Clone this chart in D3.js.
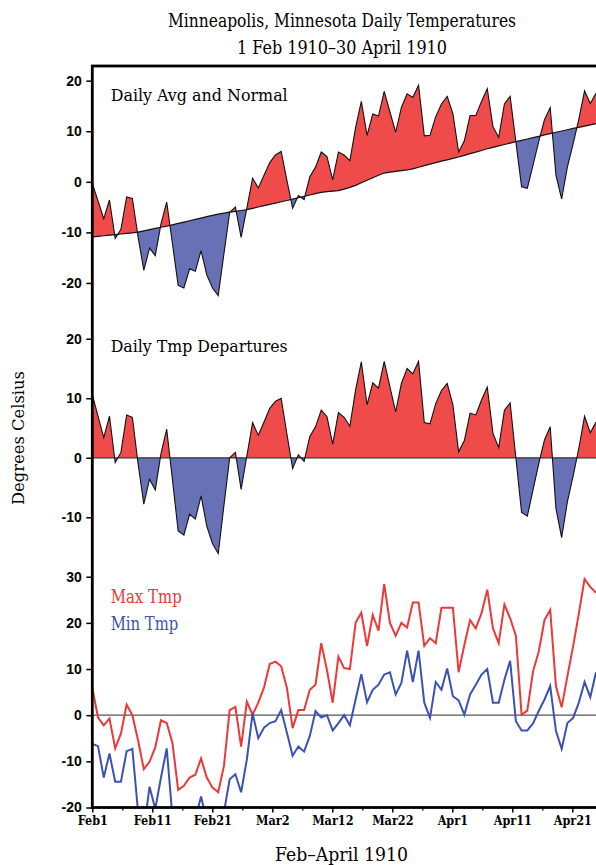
<!DOCTYPE html>
<html><head><meta charset="utf-8">
<script src="https://cdn.jsdelivr.net/npm/d3@7"></script>
<style>html,body{margin:0;padding:0;background:#fff;overflow:hidden}svg{display:block}</style>
</head><body><svg id="c" width="596" height="865"></svg>
<script>
// ---- data (daily, 1 Feb 1910 onward, index 0 = Feb 1) ----
const tnorm = [-10.9,-10.78,-10.67,-10.55,-10.44,-10.32,-10.2,-10.1,-9.94,-9.7,
  -9.46,-9.22,-8.98,-8.75,-8.5,-8.23,-7.97,-7.7,-7.44,-7.17,
  -6.9,-6.64,-6.38,-6.2,-6.0,-5.85,-5.67,-5.5,-5.24,-4.98,
  -4.72,-4.46,-4.2,-3.95,-3.7,-3.43,-3.15,-2.87,-2.6,-2.32,
  -2.08,-1.95,-1.85,-1.73,-1.46,-1.1,-0.7,-0.2,0.3,0.8,
  1.3,1.73,1.9,2.05,2.2,2.35,2.55,2.87,3.2,3.5,
  3.8,4.08,4.35,4.63,4.9,5.23,5.56,5.88,6.2,6.53,
  6.8,7.1,7.37,7.66,7.94,8.2,8.47,8.74,9.0,9.27,
  9.54,9.8,10.05,10.3,10.55,10.78,11.0,11.25,11.5];
const tdep = [10.6,7.0,3.4,7.0,-0.8,0.9,7.2,6.8,-1.0,-7.8,
  -3.6,-5.4,0.7,4.8,-3.7,-12.3,-13.0,-9.5,-10.3,-6.4,
  -11.5,-14.4,-16.1,-8.0,0.0,0.9,-5.3,0.3,5.9,3.8,
  6.0,8.3,9.5,10.0,4.0,-1.8,0.5,-0.6,3.6,5.2,
  8.0,6.9,2.3,7.6,6.8,5.3,11.4,16.1,8.9,12.6,
  11.7,16.2,11.9,7.7,12.5,15.0,14.1,16.2,5.9,5.7,
  9.1,11.3,12.5,8.9,1.0,2.9,7.5,7.2,9.7,11.9,
  4.1,1.7,8.0,9.2,0.0,-9.2,-9.8,-5.4,-1.0,3.0,
  5.2,-8.5,-13.4,-7.4,-3.1,1.6,7.0,4.2,6.0];
const tavg = [-0.3,-3.8,-7.3,-3.6,-11.2,-9.4,-3.0,-3.3,-10.9,-17.5,
  -13.1,-14.6,-8.3,-4.0,-12.2,-20.5,-21.0,-17.2,-17.7,-13.6,
  -18.4,-21.0,-22.5,-14.2,-6.0,-5.0,-11.0,-5.2,0.7,-1.2,
  1.3,3.8,5.3,6.0,0.3,-5.2,-2.7,-3.5,1.0,2.9,
  5.9,5.0,0.4,5.9,5.3,4.2,10.7,15.9,9.2,13.4,
  13.0,17.9,13.8,9.8,14.7,17.4,16.7,19.1,9.1,9.2,
  12.9,15.4,16.9,13.5,5.9,8.1,13.1,13.1,15.9,18.4,
  10.9,8.8,15.4,16.9,7.9,-1.0,-1.3,3.3,8.0,12.3,
  14.7,1.3,-3.4,2.9,7.5,12.4,18.0,15.5,17.5];
const tmax = [5.9,-0.5,-2.2,-0.7,-7.2,-4.0,2.3,0.0,-5.5,-11.7,
  -10.1,-7.0,-1.1,-1.7,-6.0,-16.2,-15.3,-13.5,-12.9,-9.4,
  -13.5,-15.7,-16.7,-11.0,1.1,1.8,-6.8,2.9,0.1,2.7,
  6.0,11.1,11.6,10.6,5.9,-2.8,1.1,1.1,5.5,6.6,
  15.6,9.8,2.7,12.7,10.2,10.0,20.0,22.2,15.0,21.7,
  18.3,28.4,20.0,17.2,20.0,19.0,24.4,24.4,15.0,16.7,
  15.6,23.3,23.3,23.3,9.3,15.2,20.6,18.8,22.1,27.2,
  18.8,15.6,24.0,21.0,17.2,0.1,1.0,9.5,13.8,20.6,
  22.8,6.3,1.7,8.4,14.9,22.0,29.5,27.8,26.5];
const tmin = [-6.2,-6.7,-13.5,-8.3,-14.4,-14.4,-7.8,-7.3,-21.0,-25.0,
  -15.5,-20.3,-13.5,-7.2,-22.0,-25.0,-27.0,-21.0,-22.5,-17.6,
  -23.0,-26.0,-28.0,-21.0,-13.9,-12.8,-16.7,-9.6,0.4,-5.0,
  -2.7,-1.7,-1.3,1.1,-3.8,-8.8,-6.8,-7.9,-4.5,0.9,
  -0.5,0.0,-3.3,-1.7,0.0,-2.2,3.4,8.9,2.8,5.5,
  6.6,8.8,9.3,4.5,7.0,14.0,7.2,14.0,2.7,-0.6,
  7.2,5.5,10.1,4.1,3.2,0.1,4.5,6.6,8.8,10.0,
  2.7,2.7,7.7,11.8,-1.3,-3.3,-3.3,-1.8,0.9,3.4,
  6.3,-3.4,-7.3,-1.7,-0.6,2.7,7.2,3.9,9.3];
const xTickLabels = ["Feb1","Feb11","Feb21","Mar2","Mar12","Mar22","Apr1","Apr11","Apr21"];
const yTicks1 = [-20,-10,0,10,20];
const yTicks2 = [-10,0,10,20];
const yTicks3 = [-20,-10,0,10,20,30];

// ---- layout ----
const L = 92.3, R = 598, T = 66, B = 807.5;
const RED = "#ef4b4b", BLUE = "#6870b6", LRED = "#ee3737", LBLUE = "#3c52b2";
const serif = '"DejaVu Serif Condensed","DejaVu Serif",serif';
const svg = d3.select("#c");
const x = d3.scaleLinear().domain([0, tmax.length - 1]).range([L, 596]);
const xTick = d3.scaleLinear().domain([0, 84]).range([L, 596.3]);

const p1 = {top: T, bottom: 313.3}, p2 = {top: 313.3, bottom: 560.7}, p3 = {top: 560.7, bottom: B};
const y1 = d3.scaleLinear().domain([-26.0, 22.9]).range([p1.bottom, p1.top]);
const y2 = d3.scaleLinear().domain([-17.29, 24.27]).range([p2.bottom, p2.top]);
const y3 = d3.scaleLinear().domain([-20, 33.47]).range([p3.bottom, p3.top]);

const defs = svg.append("defs");
const idx = d3.range(tmax.length);

// top panel: avg vs normal
defs.append("clipPath").attr("id", "aN").append("path")
  .attr("d", d3.area().x(i => x(i)).y0(p1.top - 20).y1(i => y1(tnorm[i]))(idx));
defs.append("clipPath").attr("id", "bN").append("path")
  .attr("d", d3.area().x(i => x(i)).y0(i => y1(tnorm[i])).y1(p1.bottom + 20)(idx));
const a1 = d3.area().x(i => x(i)).y0(i => y1(tnorm[i])).y1(i => y1(tavg[i]));
svg.append("path").attr("d", a1(idx)).attr("fill", RED).attr("clip-path", "url(#aN)");
svg.append("path").attr("d", a1(idx)).attr("fill", BLUE).attr("clip-path", "url(#bN)");
svg.append("path").attr("d", d3.line().x(i => x(i)).y(i => y1(tavg[i]))(idx))
  .attr("fill", "none").attr("stroke", "#111").attr("stroke-width", 1.1);
svg.append("path").attr("d", d3.line().x(i => x(i)).y(i => y1(tnorm[i]))(idx))
  .attr("fill", "none").attr("stroke", "#111").attr("stroke-width", 1.2);

// middle panel: departures
defs.append("clipPath").attr("id", "a0").append("rect")
  .attr("x", 0).attr("width", 700).attr("y", p2.top - 20).attr("height", y2(0) - p2.top + 20);
defs.append("clipPath").attr("id", "b0").append("rect")
  .attr("x", 0).attr("width", 700).attr("y", y2(0)).attr("height", p2.bottom - y2(0) + 20);
const a2 = d3.area().x(i => x(i)).y0(y2(0)).y1(i => y2(tdep[i]));
svg.append("path").attr("d", a2(idx)).attr("fill", RED).attr("clip-path", "url(#a0)");
svg.append("path").attr("d", a2(idx)).attr("fill", BLUE).attr("clip-path", "url(#b0)");
svg.append("line").attr("x1", L).attr("x2", R).attr("y1", y2(0)).attr("y2", y2(0))
  .attr("stroke", "#333").attr("stroke-width", 1.2);
svg.append("path").attr("d", d3.line().x(i => x(i)).y(i => y2(tdep[i]))(idx))
  .attr("fill", "none").attr("stroke", "#111").attr("stroke-width", 1.1);

// bottom panel: max / min
defs.append("clipPath").attr("id", "p3").append("rect")
  .attr("x", L).attr("width", 600).attr("y", p3.top).attr("height", p3.bottom - p3.top);
svg.append("line").attr("x1", L).attr("x2", R).attr("y1", y3(0)).attr("y2", y3(0))
  .attr("stroke", "#555").attr("stroke-width", 1.2);
const g3 = svg.append("g").attr("clip-path", "url(#p3)");
g3.append("path").attr("d", d3.line().x(i => x(i)).y(i => y3(tmax[i]))(idx))
  .attr("fill", "none").attr("stroke", LRED).attr("stroke-width", 2);
g3.append("path").attr("d", d3.line().x(i => x(i)).y(i => y3(tmin[i]))(idx))
  .attr("fill", "none").attr("stroke", LBLUE).attr("stroke-width", 2);

// axes
function yAxis(scale, ticks) {
  const g = svg.append("g").attr("transform", `translate(${L},0)`)
    .call(d3.axisLeft(scale).tickValues(ticks).tickSize(6).tickPadding(4.5).tickFormat(d => String(d)));
  g.select(".domain").remove();
  g.selectAll("line").attr("stroke", "#000").attr("stroke-width", 1.5);
  g.selectAll("text").attr("font-family", '"Liberation Sans",Arial,sans-serif')
    .attr("font-weight", "bold").attr("font-size", 14).attr("fill", "#000");
}
yAxis(y1, yTicks1); yAxis(y2, yTicks2); yAxis(y3, yTicks3);

const gx = svg.append("g").attr("transform", `translate(0,${B})`)
  .call(d3.axisBottom(xTick).tickValues(d3.range(0, 81, 10)).tickSize(5).tickPadding(4)
    .tickFormat((d, i) => xTickLabels[i]));
gx.select(".domain").remove();
gx.selectAll("line").attr("stroke", "#000").attr("stroke-width", 1.5);
gx.selectAll("text").attr("font-family", serif).attr("font-weight", "bold")
  .attr("font-size", 12.5).attr("fill", "#000");
const gm = svg.append("g").attr("transform", `translate(0,${B})`)
  .call(d3.axisBottom(xTick).tickValues(d3.range(5, 85, 10)).tickSize(3).tickFormat(""));
gm.select(".domain").remove();
gm.selectAll("line").attr("stroke", "#000").attr("stroke-width", 1.3);

// frame
svg.append("rect").attr("x", L).attr("y", T).attr("width", R - L).attr("height", B - T)
  .attr("fill", "none").attr("stroke", "#000").attr("stroke-width", 2.8);

// texts
function txt(s, opts) {
  const t = svg.append("text").text(s)
    .attr("x", opts.x).attr("y", opts.y)
    .attr("font-family", serif).attr("font-size", opts.size)
    .attr("fill", opts.fill || "#000")
    .attr("text-anchor", opts.anchor || "start")
    .attr("textLength", opts.w).attr("lengthAdjust", "spacingAndGlyphs");
  if (opts.rot) t.attr("transform", `rotate(-90,${opts.x},${opts.y})`);
  return t;
}
txt("Minneapolis, Minnesota Daily Temperatures", {x: 342, y: 27, size: 18, w: 348, anchor: "middle"});
txt("1 Feb 1910\u201330 April 1910", {x: 342, y: 54, size: 18, w: 210, anchor: "middle"});
txt("Daily Avg and Normal", {x: 110.7, y: 100.7, size: 17, w: 177});
txt("Daily Tmp Departures", {x: 110.7, y: 351.7, size: 17, w: 177});
txt("Max Tmp", {x: 110.7, y: 602.7, size: 18, w: 71, fill: LRED});
txt("Min Tmp", {x: 110.7, y: 630, size: 18, w: 67.6, fill: LBLUE});
txt("Feb\u2013April 1910", {x: 341.5, y: 861, size: 19, w: 133, anchor: "middle"});
txt("Degrees Celsius", {x: 23.5, y: 438, size: 17, w: 134, anchor: "middle", rot: true});
</script></body></html>
